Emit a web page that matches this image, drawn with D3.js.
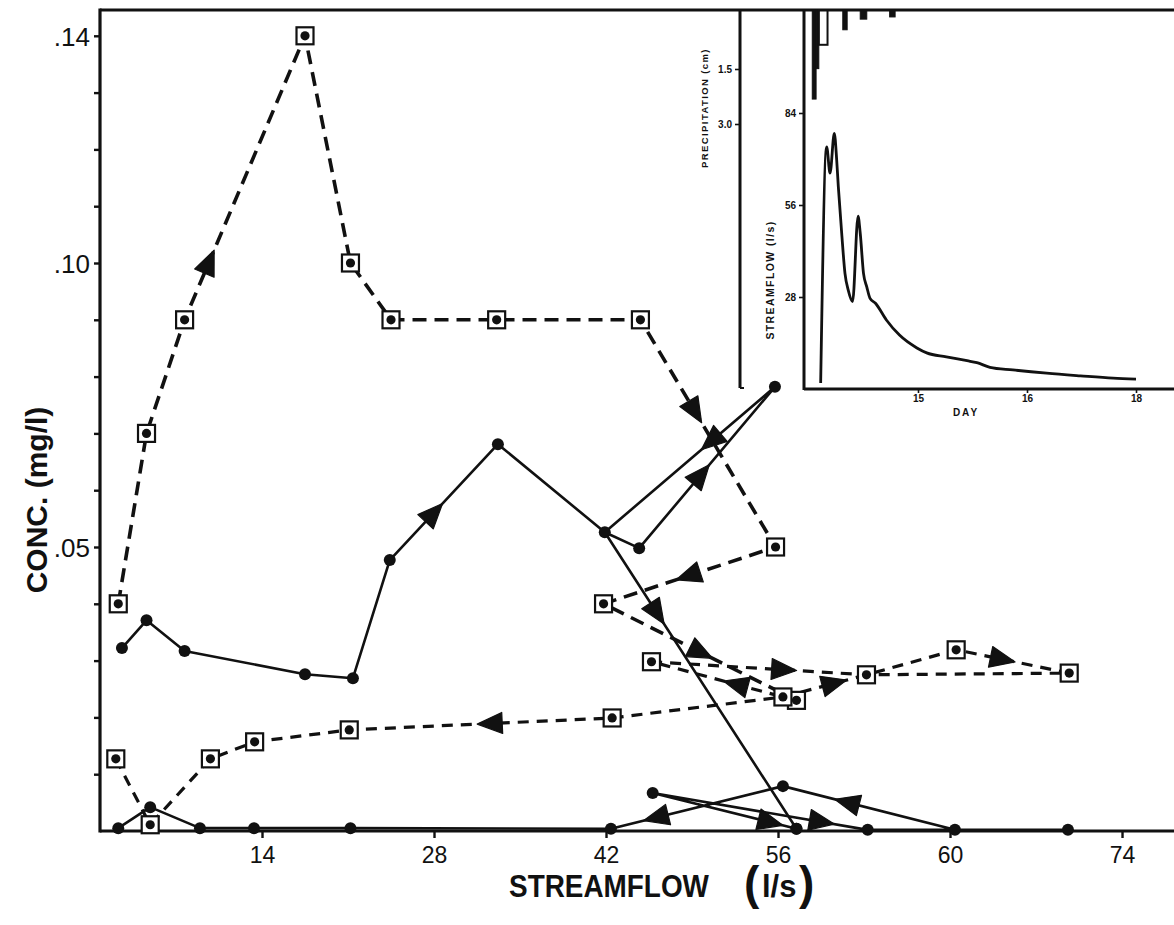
<!DOCTYPE html>
<html><head><meta charset="utf-8">
<script src="https://cdn.jsdelivr.net/npm/d3@7"></script>
<style>
html,body{margin:0;padding:0;background:#fff;}
svg{display:block;}
text{font-family:"Liberation Sans",Arial,Helvetica,sans-serif;fill:#111;}
</style></head><body>
<svg id="chart" width="1174" height="925"></svg>
<script>
// ---- Concentration / streamflow loops (flow in l/s, concentration in mg/l) ----
// Boxed-dot series, drawn dashed
const upperDashedFlow = [2.3, 4.6, 7.7, 17.5, 21.2, 24.5, 33.1, 44.8, 55.8, 41.8, 57.5];
const upperDashedConc = [0.040, 0.070, 0.090, 0.140, 0.100, 0.090, 0.090, 0.090, 0.050, 0.040, 0.023];
const lowerDashedFlow = [2.1, 4.9, 9.8, 13.4, 21.1, 42.5, 56.4, 63.2, 70.5, 79.7, 63.2, 45.7, 56.4];
const lowerDashedConc = [0.0127, 0.0011, 0.0127, 0.0157, 0.0178, 0.0199, 0.0236, 0.0275, 0.0319, 0.0278, 0.0275, 0.0298, 0.0236];
// Filled-dot series, drawn solid
const upperSolidFlow = [2.6, 4.6, 7.7, 17.5, 21.4, 24.4, 33.2, 41.9, 44.7, 55.75, 41.9, 57.5];
const upperSolidConc = [0.0322, 0.0371, 0.0317, 0.0276, 0.0269, 0.0477, 0.0681, 0.0526, 0.0498, 0.0782, 0.0526, 0.0004];
const lowerSolidFlow = [2.3, 4.9, 8.95, 13.35, 21.2, 42.4, 56.4, 70.4, 79.6, 63.3, 45.8, 57.5];
const lowerSolidConc = [0.0005, 0.0042, 0.0005, 0.0005, 0.0005, 0.0004, 0.0079, 0.0002, 0.0002, 0.0002, 0.0067, 0.0004];

// Direction arrows: [from point, to point, position along that segment]
const upperDashedArrows = [[2, 3, 0.20], [7, 8, 0.40], [8, 9, 0.50], [9, 10, 0.50]];
const lowerDashedArrows = [[5, 4, 0.46], [6, 7, 0.60], [8, 9, 0.40], [11, 10, 0.61], [12, 11, 0.35]];
const upperSolidArrows = [[5, 6, 0.40], [8, 9, 0.45], [9, 10, 0.37], [10, 11, 0.27]];
const lowerSolidArrows = [[6, 5, 0.73], [7, 6, 0.62], [10, 11, 0.81], [10, 9, 0.78]];

// Axis ticks
const xTickValues = [14, 28, 42, 56, 70, 84];
const xTickLabels = ["14", "28", "42", "56", "60", "74"];
const yTickValues = d3.range(1, 15).map(i => i / 100);
const yLabelValues = [0.05, 0.10, 0.14];
const yLabelText = [".05", ".10", ".14"];

// ---- Inset: storm hydrograph and rainfall ----
const hydroDay = [14.107, 14.162, 14.193, 14.232, 14.254, 14.269, 14.30, 14.33, 14.36, 14.40, 14.45, 14.47, 14.50, 14.53, 14.56, 14.61, 14.71, 14.83, 14.99, 15.08, 15.26, 15.45, 15.54, 15.66, 15.87, 16.18, 16.49, 16.79, 17.0];
const hydroFlow = [1.8, 73.7, 65.7, 77.8, 69.7, 61.6, 47.4, 35.2, 30.1, 26.6, 52.6, 47.4, 35.2, 31.1, 27.6, 26.1, 21.0, 16.4, 12.5, 11.0, 9.8, 8.6, 8.0, 6.6, 5.8, 4.8, 4.0, 3.3, 3.0];
const rainStart = [14.03, 14.065, 14.09, 14.31, 14.47, 14.74];
const rainEnd = [14.065, 14.09, 14.17, 14.35, 14.53, 14.79];
const rainDepth = [2.32, 1.49, 0.84, 0.43, 0.14, 0.08];
const rainOpen = [false, false, true, false, false, false];
const dayTickValues = [15, 16, 17];
const dayTickLabels = ["15", "16", "18"];
const flowTickValues = [28, 56, 84];
const rainTickValues = [1.5, 3.0];
const rainTickLabels = ["1.5", "3.0"];

const svg = d3.select("#chart");
const ink = "#111";

// Main scales
const x = d3.scaleLinear().domain([0, 88]).range([90, 90 + 88 * 12.286]);
const y = d3.scaleLinear().domain([0, 0.14]).range([831, 35.8]);
const frame = {left: 100, top: 10, bottom: 831, right: 1174};

// Frame lines
svg.append("line").attr("x1", frame.left).attr("x2", frame.right)
  .attr("y1", frame.top).attr("y2", frame.top)
  .attr("stroke", ink).attr("stroke-width", 3);
svg.append("line").attr("x1", frame.left).attr("x2", frame.left)
  .attr("y1", frame.top - 1.5).attr("y2", frame.bottom + 1.5)
  .attr("stroke", ink).attr("stroke-width", 3.2);
svg.append("line").attr("x1", frame.left).attr("x2", frame.right)
  .attr("y1", frame.bottom).attr("y2", frame.bottom)
  .attr("stroke", ink).attr("stroke-width", 3);

// Y axis
const yLabelOf = d => { const i = yLabelValues.findIndex(v => Math.abs(v - d) < 1e-9); return i >= 0 ? yLabelText[i] : ""; };
const yAxis = svg.append("g").attr("transform", `translate(${frame.left},0)`)
  .call(d3.axisLeft(y).tickValues(yTickValues).tickSize(6).tickPadding(4).tickFormat(yLabelOf));
yAxis.select(".domain").remove();
yAxis.selectAll(".tick line").attr("stroke", ink).attr("stroke-width", 2.4);
yAxis.selectAll(".tick text").attr("font-size", 26).attr("fill", ink)
  .attr("font-family", "Liberation Sans, Arial, sans-serif").attr("dy", "0.36em");

// X axis
const xAxis = svg.append("g").attr("transform", `translate(0,${frame.bottom})`)
  .call(d3.axisBottom(x).tickValues(xTickValues).tickSize(7).tickPadding(9)
    .tickFormat((d, i) => xTickLabels[i]));
xAxis.select(".domain").remove();
xAxis.selectAll(".tick line").attr("stroke", ink).attr("stroke-width", 2.4);
xAxis.selectAll(".tick text").attr("font-size", 23).attr("fill", ink)
  .attr("font-family", "Liberation Sans, Arial, sans-serif");

// Axis titles
svg.append("text").attr("transform", "translate(47,500) rotate(-90)")
  .attr("text-anchor", "middle").attr("font-size", 30).attr("font-weight", "bold")
  .text("CONC. (mg/l)");
svg.append("text").attr("transform", "translate(609,897) scale(0.9,1)")
  .attr("text-anchor", "middle").attr("font-size", 31).attr("font-weight", "bold")
  .text("STREAMFLOW");
svg.append("text").attr("x", 744).attr("y", 899)
  .attr("font-size", 46).attr("font-weight", "bold").text("(");
svg.append("text").attr("x", 762).attr("y", 897)
  .attr("font-size", 31).attr("font-weight", "bold").text("l/s");
svg.append("text").attr("x", 799).attr("y", 899)
  .attr("font-size", 46).attr("font-weight", "bold").text(")");

// Series
const series = [
  {flow: upperDashedFlow, conc: upperDashedConc, arrows: upperDashedArrows, dashed: true, width: 3.6, dash: "14,8"},
  {flow: lowerDashedFlow, conc: lowerDashedConc, arrows: lowerDashedArrows, dashed: true, width: 3.2, dash: "11,8"},
  {flow: upperSolidFlow, conc: upperSolidConc, arrows: upperSolidArrows, dashed: false, width: 2.6},
  {flow: lowerSolidFlow, conc: lowerSolidConc, arrows: lowerSolidArrows, dashed: false, width: 2.6}
];
const line = d3.line().x(d => x(d[0])).y(d => y(d[1]));
const lines = svg.append("g");
const arrowG = svg.append("g");
const markG = svg.append("g");

series.forEach(s => {
  const pts = d3.zip(s.flow, s.conc);
  lines.append("path").datum(pts).attr("d", line)
    .attr("fill", "none").attr("stroke", ink).attr("stroke-width", s.width)
    .attr("stroke-linejoin", "round")
    .attr("stroke-dasharray", s.dashed ? s.dash : null);

  s.arrows.forEach(([a, b, t]) => {
    const x0 = x(pts[a][0]), y0 = y(pts[a][1]);
    const x1 = x(pts[b][0]), y1 = y(pts[b][1]);
    const px = x0 + (x1 - x0) * t, py = y0 + (y1 - y0) * t;
    const ang = Math.atan2(y1 - y0, x1 - x0) * 180 / Math.PI;
    arrowG.append("path")
      .attr("d", "M14,0 L-11,-10.5 L-11,10.5 Z")
      .attr("transform", `translate(${px},${py}) rotate(${ang})`)
      .attr("fill", ink).attr("stroke", ink).attr("stroke-width", 1.2)
      .attr("stroke-linejoin", "round");
  });

  const uniq = [];
  pts.forEach(p => { if (!uniq.some(q => q[0] === p[0] && q[1] === p[1])) uniq.push(p); });
  uniq.forEach(p => {
    const cx = x(p[0]), cy = y(p[1]);
    if (s.dashed) {
      markG.append("rect").attr("x", cx - 8.5).attr("y", cy - 8.5)
        .attr("width", 17).attr("height", 17)
        .attr("fill", "#fff").attr("stroke", ink).attr("stroke-width", 2.2);
      markG.append("circle").attr("cx", cx).attr("cy", cy).attr("r", 4.6).attr("fill", ink);
    } else {
      markG.append("circle").attr("cx", cx).attr("cy", cy).attr("r", 6).attr("fill", ink);
    }
  });
});

// ---- Inset ----
const inset = svg.append("g");
const dayX = d3.scaleLinear().domain([14, 17]).range([809, 1136]);
const flowY = d3.scaleLinear().domain([0, 84]).range([389, 113]);
const rainY = d3.scaleLinear().domain([0, 3]).range([14, 124]);
const insetBox = {rainAxis: 740, flowAxis: 804, top: 10, bottom: 389, right: 1174};

// Rainfall bars hang from the top edge
rainStart.forEach((d0, i) => {
  inset.append("rect")
    .attr("x", dayX(d0)).attr("y", insetBox.top)
    .attr("width", Math.max(1, dayX(rainEnd[i]) - dayX(d0)))
    .attr("height", rainY(rainDepth[i]) - insetBox.top)
    .attr("fill", rainOpen[i] ? "none" : ink)
    .attr("stroke", ink).attr("stroke-width", rainOpen[i] ? 2 : 1);
});

// Hydrograph
inset.append("path").datum(d3.zip(hydroDay, hydroFlow))
  .attr("d", d3.line().x(d => dayX(d[0])).y(d => flowY(d[1])).curve(d3.curveMonotoneX))
  .attr("fill", "none").attr("stroke", ink).attr("stroke-width", 2.8)
  .attr("stroke-linejoin", "round");

// Inset axis lines
inset.append("line").attr("x1", insetBox.rainAxis).attr("x2", insetBox.rainAxis)
  .attr("y1", insetBox.top).attr("y2", insetBox.bottom - 1)
  .attr("stroke", ink).attr("stroke-width", 3);
inset.append("line").attr("x1", insetBox.rainAxis).attr("x2", insetBox.rainAxis + 4)
  .attr("y1", insetBox.bottom - 1).attr("y2", insetBox.bottom - 1)
  .attr("stroke", ink).attr("stroke-width", 2);
inset.append("line").attr("x1", insetBox.flowAxis).attr("x2", insetBox.flowAxis)
  .attr("y1", insetBox.top).attr("y2", insetBox.bottom + 1)
  .attr("stroke", ink).attr("stroke-width", 3);
inset.append("line").attr("x1", insetBox.flowAxis).attr("x2", insetBox.right)
  .attr("y1", insetBox.bottom).attr("y2", insetBox.bottom)
  .attr("stroke", ink).attr("stroke-width", 3);

const smallFont = "DejaVu Sans, Liberation Sans, sans-serif";
const styleSmall = g => {
  g.select(".domain").remove();
  g.selectAll(".tick line").attr("stroke", ink).attr("stroke-width", 1.6);
  g.selectAll(".tick text").attr("font-size", 10).attr("font-weight", "bold")
    .attr("font-family", smallFont).attr("fill", ink);
};
inset.append("g").attr("transform", `translate(${insetBox.flowAxis},0)`)
  .call(d3.axisLeft(flowY).tickValues(flowTickValues).tickSize(5).tickPadding(3))
  .call(styleSmall);
inset.append("g").attr("transform", `translate(${insetBox.rainAxis},0)`)
  .call(d3.axisLeft(rainY).tickValues(rainTickValues).tickSize(5).tickPadding(3)
    .tickFormat((d, i) => rainTickLabels[i]))
  .call(styleSmall);
inset.append("g").attr("transform", `translate(0,${insetBox.bottom})`)
  .call(d3.axisBottom(dayX).tickValues(dayTickValues).tickSize(4).tickPadding(2)
    .tickFormat((d, i) => dayTickLabels[i]))
  .call(styleSmall);

inset.append("text").attr("transform", "translate(774,280) rotate(-90)")
  .attr("text-anchor", "middle").attr("font-size", 10.5).attr("font-weight", "bold")
  .attr("letter-spacing", 1.4).attr("font-family", smallFont).text("STREAMFLOW (l/s)");
inset.append("text").attr("transform", "translate(708,108) rotate(-90)")
  .attr("text-anchor", "middle").attr("font-size", 9.5).attr("font-weight", "bold")
  .attr("letter-spacing", 1.4).attr("font-family", smallFont).text("PRECIPITATION (cm)");
inset.append("text").attr("x", 966).attr("y", 416)
  .attr("text-anchor", "middle").attr("font-size", 10).attr("font-weight", "bold")
  .attr("letter-spacing", 2).attr("font-family", smallFont).text("DAY");
</script>
</body></html>
